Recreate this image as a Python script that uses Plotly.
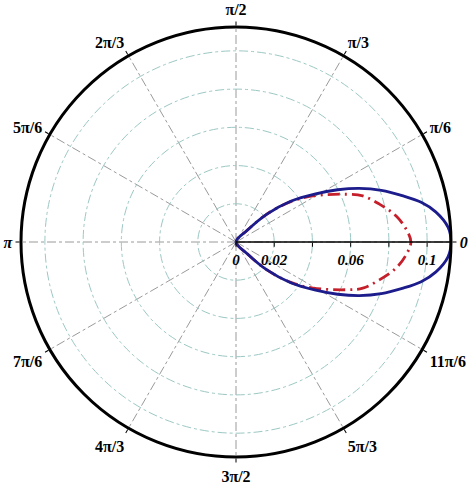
import plotly.graph_objects as go

# angle (deg) and radius, lower branch -> tip -> upper branch
theta_blue = [-50, -46.3, -42.1, -36.7, -31.2, -27.2, -23.5, -19.6, -15.6, -12.1, -8.5, -4.0, 0,
              4.0, 8.5, 12.1, 15.6, 19.6, 23.5, 27.2, 31.2, 36.7, 42.1, 46.3, 50]
r_blue = [0, 0.0083, 0.0218, 0.0357, 0.0487, 0.0598, 0.0704, 0.0807, 0.0903, 0.0991, 0.1058, 0.1112, 0.1125,
          0.1112, 0.1058, 0.0991, 0.0903, 0.0807, 0.0704, 0.0598, 0.0487, 0.0357, 0.0218, 0.0083, 0]

theta_red = [-50, -46.3, -42.1, -36.4, -30.9, -23.4, -20.0, -14.8, -9.3, -4.4, 0,
             4.4, 9.3, 14.8, 20.0, 23.4, 30.9, 36.4, 42.1, 46.3, 50]
r_red = [0, 0.0083, 0.0218, 0.0356, 0.0469, 0.0629, 0.0706, 0.0776, 0.0848, 0.0892, 0.0915,
         0.0892, 0.0848, 0.0776, 0.0706, 0.0629, 0.0469, 0.0356, 0.0218, 0.0083, 0]

ang_ticks = [0, 30, 60, 90, 120, 150, 180, 210, 240, 270, 300, 330]
ang_labels = ["<i>0</i>", "π/6", "π/3", "π/2", "2π/3", "5π/6", "<i>π</i>",
              "7π/6", "4π/3", "3π/2", "5π/3", "11π/6"]

rad_ticks = [0, 0.02, 0.04, 0.06, 0.08, 0.1]
rad_labels = ["0", "0.02", "", "0.06", "", "0.1"]

fig = go.Figure()
fig.add_trace(go.Scatterpolar(r=r_red, theta=theta_red, mode="lines",
                              line=dict(color="#c41f2a", width=2.8, dash="12px,5px,2px,5px",
                                        shape="spline")))
fig.add_trace(go.Scatterpolar(r=r_blue, theta=theta_blue, mode="lines",
                              line=dict(color="#1c1c8c", width=2.8, shape="spline")))

fig.update_layout(
    width=474, height=485,
    margin=dict(l=21, r=23, t=27, b=28),
    paper_bgcolor="white",
    showlegend=False,
    polar=dict(
        bgcolor="white",
        angularaxis=dict(
            tickmode="array", tickvals=ang_ticks, ticktext=ang_labels,
            direction="counterclockwise", rotation=0,
            showline=True, linecolor="black", linewidth=3,
            ticks="outside", ticklen=4, tickcolor="black",
            showgrid=True, gridcolor="#9a9a9a", gridwidth=1, griddash="dashdot",
            tickfont=dict(family="Liberation Serif", size=16, color="black", weight="bold"),
        ),
        radialaxis=dict(
            range=[0, 0.1125], angle=0, tickangle=0,
            tickmode="array", tickvals=rad_ticks, ticktext=rad_labels,
            showline=True, linecolor="black", linewidth=1.5,
            ticks="outside", ticklen=4, tickcolor="black",
            showgrid=True, gridcolor="#9cc8c4", gridwidth=1, griddash="dashdot",
            tickfont=dict(family="Liberation Serif", size=15, color="black",
                          weight="bold", style="italic"),
        ),
    ),
)

# drop the default 8px body margin so the figure fills the window
fig.write_html("out.html", config={"displayModeBar": False},
               post_script="document.body.style.margin='0px';")
